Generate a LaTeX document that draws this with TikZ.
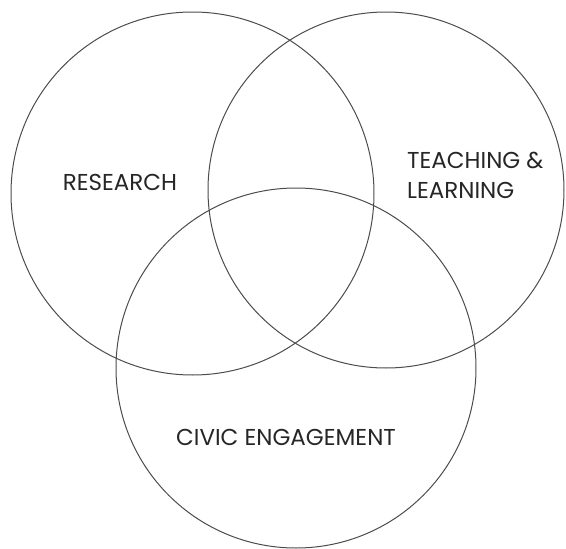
\documentclass[tikz,border=0pt]{standalone}
\usepackage{fontspec}
\setmainfont{Poppins}
\usepackage{tikz}
\usetikzlibrary{positioning}

\begin{document}
\begin{tikzpicture}[x=1pt, y=-1pt,
    ring/.style={draw=black!70, line width=1pt},
    label/.style={text=black!85, font=\fontsize{23}{30}\selectfont, inner sep=0pt}]

    \useasboundingbox (0,0) rectangle (566,549);

    % Circle centres
    \coordinate (research) at (192.5,193.5);
    \coordinate (teaching) at (386,190);
    \coordinate (civic) at (296,368);

    % Circles
    \draw[ring] (research) circle (181.5);
    \draw[ring] (teaching) circle (178);
    \draw[ring] (civic) circle (180);

    % Labels
    \node[label, anchor=base] (researchtxt) at (120,190) {RESEARCH};
    \node[label, anchor=base west, align=left] (teachingtxt) at (407,198) {TEACHING \&\\LEARNING};
    \node[label, anchor=base] (civictxt) at (286,445) {CIVIC ENGAGEMENT};
\end{tikzpicture}
\end{document}
